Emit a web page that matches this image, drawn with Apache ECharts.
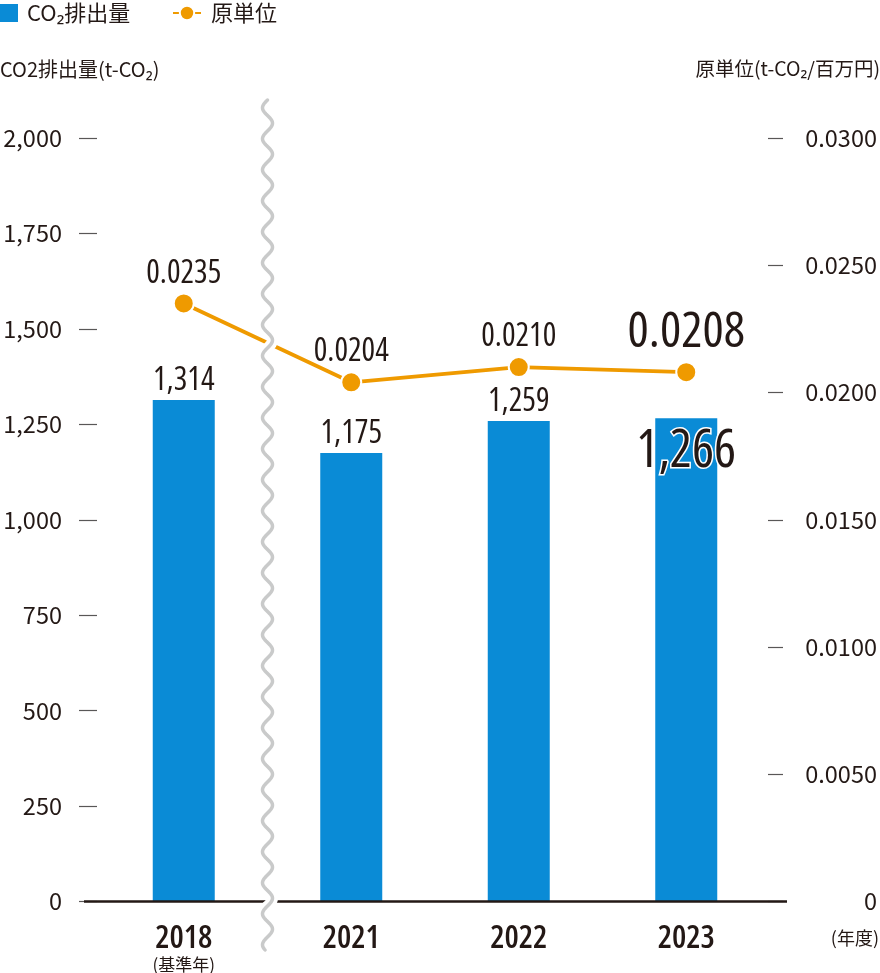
<!DOCTYPE html>
<html><head><meta charset="utf-8">
<script src="https://cdn.jsdelivr.net/npm/echarts@6/dist/echarts.min.js"></script>
<style>html,body{margin:0;padding:0;background:#fff}#c{width:880px;height:973px}</style>
</head><body><div id="c"></div>
<script>
const categories = ['2018', '2021', '2022', '2023'];
const categorySub = ['(基準年)', '', '', ''];
const co2 = [1314, 1175, 1259, 1266];
const intensity = [0.0235, 0.0204, 0.0210, 0.0208];
const leftAxis = { min: 0, max: 2000, interval: 250 };
const rightAxis = { min: 0, max: 0.03, interval: 0.005 };
const highlightIndex = 3;

const JP = '"Noto Sans CJK JP", "Noto Sans", sans-serif';
const NUM = '"Open Sans", "Noto Sans", sans-serif';
const NUMW = 'normal condensed';
const TXT = '#231815';
const BLUE = '#0a8bd6';
const ORANGE = '#ef9a00';

const chart = echarts.init(document.getElementById('c'));

const barData = co2.map((v, i) => i === highlightIndex ? {
  value: v,
  label: { position: 'insideTop', distance: 8, fontSize: 52, textBorderColor: '#fff', textBorderWidth: 3 }
} : v);
const lineData = intensity.map((v, i) => i === highlightIndex ? {
  value: v,
  label: { fontSize: 50, distance: 3 }
} : v);

chart.setOption({
  animation: false,
  textStyle: { fontFamily: JP },
  grid: { left: 100, right: 108, top: 138, bottom: 71 },
  legend: [
    { data: [{ name: 'CO₂排出量', icon: 'rect' }], left: 0, top: 2, padding: 0, itemWidth: 18, itemHeight: 18,
      textStyle: { fontSize: 22, color: TXT, fontFamily: JP, padding: [0, 0, 0, 4] } },
    { data: ['原単位'], left: 172, top: 2, padding: 0, itemWidth: 28, itemHeight: 18,
      textStyle: { fontSize: 22, color: TXT, fontFamily: JP, padding: [0, 0, 0, 5] } }
  ],
  xAxis: {
    type: 'category', data: categories,
    axisLine: { show: false }, axisTick: { show: false },
    axisLabel: {
      margin: 22, interval: 0,
      formatter: (v, i) => categorySub[i] ? `{y|${v}}\n{s|${categorySub[i]}}` : `{y|${v}}`,
      rich: {
        y: { fontFamily: NUM, fontSize: 32, fontWeight: '600 condensed', color: TXT, lineHeight: 30 },
        s: { fontFamily: JP, fontSize: 17, color: TXT, lineHeight: 22 }
      }
    }
  },
  yAxis: [
    { type: 'value', min: leftAxis.min, max: leftAxis.max, interval: leftAxis.interval, offset: 3,
      axisLine: { show: false }, splitLine: { show: false },
      axisTick: { show: true, length: 18, lineStyle: { color: '#595757', width: 1.2 } },
      axisLabel: { margin: 35, fontSize: 23.5, color: TXT, fontFamily: JP,
        formatter: v => v.toLocaleString('en-US') } },
    { type: 'value', min: rightAxis.min, max: rightAxis.max, interval: rightAxis.interval, offset: -2,
      position: 'right',
      axisLine: { show: false }, splitLine: { show: false },
      axisTick: { show: true, length: 15, lineStyle: { color: '#595757', width: 1.2 } },
      axisLabel: { margin: 109, align: 'right', fontSize: 23.5, color: TXT, fontFamily: JP,
        formatter: v => v === 0 ? '0' : v.toFixed(4) } }
  ],
  series: [
    { name: 'CO₂排出量', type: 'bar', data: barData, barWidth: 62, yAxisIndex: 0,
      itemStyle: { color: BLUE },
      label: { show: true, position: 'top', distance: 3, fontFamily: NUM, fontWeight: NUMW, fontSize: 32, color: TXT,
        formatter: p => p.value.toLocaleString('en-US') } },
    { name: '原単位', type: 'line', data: lineData, yAxisIndex: 1, z: 5,
      symbol: 'circle', symbolSize: 20,
      lineStyle: { color: ORANGE, width: 3.8 },
      itemStyle: { color: ORANGE, borderColor: '#fff', borderWidth: 2 },
      label: { show: true, position: 'top', distance: 3, fontFamily: NUM, fontWeight: NUMW, fontSize: 32, color: TXT,
        formatter: p => p.value.toFixed(4) } }
  ]
});

const y0 = chart.convertToPixel({ yAxisIndex: 0 }, 0);
const xa = chart.convertToPixel({ xAxisIndex: 0 }, categories[0]);
const xb = chart.convertToPixel({ xAxisIndex: 0 }, categories[1]);
const xWave = (xa + xb) / 2;
const pts = [];
for (let y = 100; y <= 950; y += 1) {
  pts.push([xWave + 5 * Math.sin((y - 100) / 31 * 2 * Math.PI + Math.PI), y]);
}
chart.setOption({
  graphic: [
    { type: 'line', z: 50, shape: { x1: 84, y1: y0, x2: 787, y2: y0 }, style: { stroke: TXT, lineWidth: 2.5 } },
    { type: 'polyline', z: 60, shape: { points: pts }, style: { stroke: '#fff', lineWidth: 11, fill: null } },
    { type: 'polyline', z: 61, shape: { points: pts }, style: { stroke: '#c9caca', lineWidth: 3.5, fill: null, lineCap: 'round' } },
    { type: 'text', z: 70, left: 0, top: 59, style: { text: 'CO2排出量(t-CO₂)', fontSize: 20, fill: TXT, fontFamily: JP } },
    { type: 'text', z: 70, right: 0, top: 59, style: { text: '原単位(t-CO₂/百万円)', fontSize: 19.5, fill: TXT, fontFamily: JP } },
    { type: 'text', z: 70, right: 1, top: 929, style: { text: '(年度)', fontSize: 18, fill: TXT, fontFamily: JP } }
  ]
});
</script></body></html>
